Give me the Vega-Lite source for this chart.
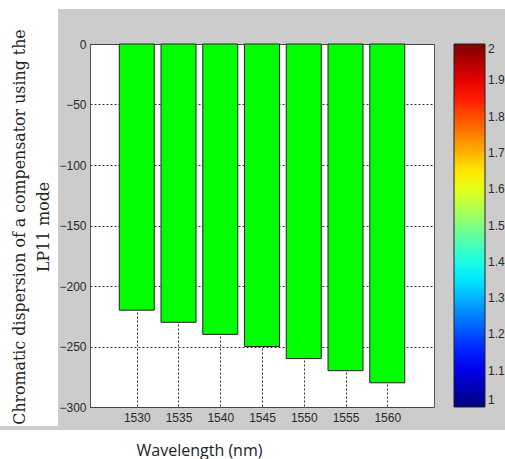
{
  "$schema": "https://vega.github.io/schema/vega-lite/v6.json",
  "background": "#cccccc",
  "padding": 0,
  "spacing": 0,
  "config": {
    "font": "Liberation Sans",
    "view": {"stroke": null},
    "axis": {"labelFont": "Liberation Sans", "labelFontSize": 12, "labelColor": "#2a2a2a"},
    "legend": {"labelFont": "Liberation Sans"}
  },
  "resolve": {"scale": {"color": "independent"}},
  "vconcat": [
    {
      "width": 505,
      "height": 9,
      "view": {"fill": "white", "stroke": null},
      "data": {"values": [{}]},
      "mark": {"type": "text", "text": " ", "fontSize": 4}
    },
    {
      "spacing": 0,
      "resolve": {"scale": {"color": "independent"}},
      "hconcat": [
        {
          "width": 58,
          "height": 417,
          "view": {"fill": "white", "stroke": null},
          "data": {"values": [{}]},
          "mark": {
            "type": "text",
            "text": ["Chromatic  dispersion of a compensator  using the", "LP11 mode\u00a0\u00a0\u00a0\u00a0\u00a0\u00a0"],
            "angle": 270,
            "align": "center",
            "baseline": "middle",
            "lineHeight": 24,
            "font": "DejaVu Serif",
            "fontSize": 15.8,
            "color": "#222222",
            "dx": -9.5,
            "dy": -9
          }
        },
        {
          "spacing": 0,
          "resolve": {"scale": {"color": "independent"}},
          "vconcat": [
            {
              "width": 344,
              "height": 28,
              "view": {"stroke": null},
              "data": {"values": [{}]},
              "mark": {"type": "text", "text": " ", "fontSize": 4}
            },
            {
              "width": 344,
              "height": 363,
              "view": {"fill": "white", "stroke": "#555555", "strokeWidth": 1},
              "layer": [
                {
                  "data": {
                    "values": [
                      {"wavelength": 1530, "dispersion": -220},
                      {"wavelength": 1535, "dispersion": -230},
                      {"wavelength": 1540, "dispersion": -240},
                      {"wavelength": 1545, "dispersion": -250},
                      {"wavelength": 1550, "dispersion": -260},
                      {"wavelength": 1555, "dispersion": -270},
                      {"wavelength": 1560, "dispersion": -280}
                    ]
                  },
                  "mark": {"type": "bar", "color": "#00ff00", "stroke": "#222222", "strokeWidth": 1, "size": 35},
                  "encoding": {
                    "x": {
                      "field": "wavelength",
                      "type": "quantitative",
                      "scale": {"domain": [1525, 1565], "nice": false, "zero": false},
                      "axis": {
                        "orient": "bottom",
                        "title": null,
                        "format": "d",
                        "values": [1530, 1535, 1540, 1545, 1550, 1555, 1560],
                        "grid": true,
                        "gridDash": [2, 2],
                        "gridColor": "#333333",
                        "gridOpacity": 1,
                        "ticks": false,
                        "domain": false,
                        "labelPadding": 5,
                        "labelFlush": false,
                        "minExtent": 20,
                        "maxExtent": 20
                      }
                    },
                    "y": {
                      "field": "dispersion",
                      "type": "quantitative",
                      "scale": {"domain": [-300, 0], "nice": false},
                      "axis": {
                        "orient": "left",
                        "title": null,
                        "format": "d",
                        "values": [-300, -250, -200, -150, -100, -50, 0],
                        "grid": true,
                        "gridDash": [2, 2],
                        "gridColor": "#333333",
                        "gridOpacity": 1,
                        "ticks": false,
                        "domain": false,
                        "labelPadding": 4,
                        "minExtent": 31,
                        "maxExtent": 31
                      }
                    }
                  }
                },
                {
                  "data": {"values": [{"level": 1}, {"level": 2}]},
                  "mark": {"type": "point", "opacity": 0},
                  "encoding": {
                    "color": {
                      "field": "level",
                      "type": "quantitative",
                      "scale": {
                        "type": "linear",
                        "domain": [1, 2],
                        "range": ["#000080", "#0000ff", "#0080ff", "#00ffff", "#80ff80", "#ffff00", "#ff8000", "#ff0000", "#800000"],
                        "interpolate": "rgb"
                      },
                      "legend": {
                        "orient": "none",
                        "legendX": 364,
                        "legendY": 0,
                        "direction": "vertical",
                        "title": null,
                        "gradientLength": 363,
                        "gradientThickness": 31,
                        "gradientStrokeColor": "#222222",
                        "gradientStrokeWidth": 1,
                        "values": [1, 1.1, 1.2, 1.3, 1.4, 1.5, 1.6, 1.7, 1.8, 1.9, 2],
                        "format": "~g",
                        "labelOverlap": false,
                        "labelFontSize": 12,
                        "labelColor": "#2a2a2a",
                        "labelOffset": 3,
                        "padding": 0
                      }
                    }
                  }
                }
              ]
            }
          ]
        }
      ]
    },
    {
      "width": 505,
      "height": 33,
      "view": {"fill": "white", "stroke": null},
      "data": {"values": [{}]},
      "mark": {
        "type": "text",
        "text": "Wavelength (nm)",
        "font": "Open Sans",
        "fontSize": 16,
        "color": "#222222",
        "baseline": "middle",
        "dx": -53,
        "dy": 4
      }
    }
  ]
}
